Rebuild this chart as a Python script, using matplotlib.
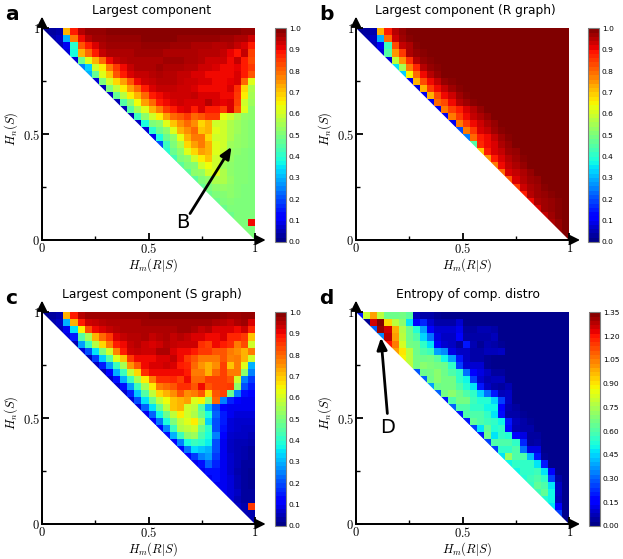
import numpy as np
import matplotlib
matplotlib.use("Agg")
import matplotlib.pyplot as plt
from matplotlib.patches import Polygon

W, H = 623, 559
titles = ["Largest component", "Largest component (R graph)", "Largest component (S graph)", "Entropy of comp. distro"]
letters = ["a", "b", "c", "d"]
vmax_list = [1.0, 1.0, 1.0, 1.35]
cbar_ticks_a = [0.0,0.1,0.2,0.3,0.4,0.5,0.6,0.7,0.8,0.9,1.0]
cbar_ticks_d = [0.0,0.15,0.30,0.45,0.60,0.75,0.90,1.05,1.20,1.35]

# values x100, each row starts on the diagonal and runs to the right edge
rows_a = [
[2,3,4,72,88,95,98,98,98,99,99,99,99,99,99,99,99,99,99,99,99,99,99,99,99,99,99,99,98,98],
[4,6,30,78,90,95,97,97,98,98,98,98,98,99,99,99,99,99,98,98,98,98,98,98,97,97,96,96,93],
[5,10,40,82,88,92,96,97,97,97,97,97,98,98,98,98,97,97,97,96,96,96,95,95,96,94,92,88],
[8,38,72,80,88,94,96,96,96,96,97,97,97,97,96,96,96,96,96,95,95,95,94,91,89,94,84],
[8,48,62,72,80,90,94,95,96,96,96,96,96,97,97,97,96,96,95,93,93,93,90,94,88,83],
[25,33,60,66,78,85,90,94,96,96,96,97,96,96,96,95,95,93,93,92,90,90,91,88,85],
[30,47,62,70,82,88,92,94,94,95,96,95,95,94,94,92,92,90,90,90,90,92,88,82],
[8,50,60,68,74,82,90,93,94,95,95,95,94,93,93,92,92,90,90,91,92,80,62],
[5,50,58,66,74,80,88,92,94,94,94,93,93,92,90,90,90,90,92,86,68,56],
[6,47,57,66,72,80,88,90,92,93,93,93,94,92,92,92,90,90,85,66,55],
[5,45,52,64,74,80,88,90,92,93,92,92,92,95,92,91,92,84,60,54],
[5,45,55,62,72,78,85,88,91,92,88,92,88,88,85,92,82,62,52],
[5,42,52,60,66,74,80,82,85,80,82,85,85,63,60,56,53,52],
[6,38,50,52,62,70,76,80,76,68,72,60,60,56,54,52,51],
[8,40,48,52,62,72,76,80,70,72,62,60,56,54,52,51],
[10,38,48,52,63,72,78,78,68,60,60,56,53,52,51],
[20,42,50,56,68,74,78,72,62,60,54,53,52,51],
[40,48,52,62,68,74,72,62,59,53,52,51,50],
[43,50,52,60,66,70,60,56,53,51,51,50],
[46,50,51,60,64,60,54,52,51,51,50],
[46,52,53,60,62,56,52,51,51,50],
[46,50,52,56,56,53,51,51,50],
[47,50,52,53,52,51,50,50],
[48,50,51,52,51,50,50],
[48,50,51,50,50,50],
[48,50,50,50,50],
[48,50,50,50],
[50,50,90],
[50,50],
[50],
]

rows_b = [
[2,3,4,72,88,95,98,100],
[4,6,30,80,93,97,99],
[5,10,42,83,94,96,99],
[8,45,75,85,96,98,99],
[8,58,75,86,95,98,99],
[35,55,78,87,95,98,99],
[33,65,80,90,95,98],
[10,72,83,90,94,98,99],
[8,72,85,90,94,97,99],
[10,72,83,90,93,97,99],
[10,80,83,90,95,97,99],
[10,78,84,88,92,95,98],
[10,78,85,90,94,96,98],
[10,78,85,90,93,96,98],
[20,78,85,92,94,97,99],
[25,80,88,90,94,97,99],
[45,87,90,92,96,98],
[70,88,92,94,97,98],
[75,88,92,95,97,99],
[78,90,94,96,98],
[80,92,94,96,98],
[82,92,95,97,98],
[85,93,96,97,99],
[88,95,97,98,99],
[90,96,97,98,99],
[92,97,98,99,100],
[94,97,99,100],
[96,98,100],
[98,100],
[100],
]

rows_c = [
[2,3,4,72,88,95,97,97,97,97,97,98,98,98,98,99,99,99,99,99,99,99,99,99,99,98,97,97,98,98],
[4,6,30,72,88,93,94,95,96,96,96,96,96,97,97,97,97,97,97,97,97,97,97,96,95,94,96,97,92],
[5,10,35,65,83,90,92,94,95,96,96,96,96,96,96,96,96,97,97,96,94,95,92,92,92,90,93,87],
[8,15,45,55,72,80,85,92,94,95,95,96,94,95,96,94,95,94,92,92,90,90,92,87,87,85,70],
[5,28,42,57,68,78,88,90,94,95,93,92,93,95,94,93,93,93,86,84,90,88,86,78,83,60],
[8,20,35,50,60,77,88,93,94,93,93,96,96,92,90,90,88,85,85,82,82,78,76,72,78],
[5,18,33,45,62,70,85,90,90,90,92,92,94,90,85,82,78,78,78,82,77,78,72,60],
[6,15,28,42,55,75,82,90,92,92,93,92,88,87,80,75,72,76,84,70,78,62,30],
[5,12,30,42,58,68,86,90,90,90,90,90,88,78,78,72,80,84,78,78,52,25],
[6,14,30,42,55,66,78,86,86,87,84,90,80,80,84,84,84,82,60,25,18],
[7,14,28,42,55,66,78,80,82,86,86,82,90,82,84,84,85,52,20,15],
[7,16,32,45,58,68,72,76,82,76,78,82,68,82,84,48,25,14,12],
[8,20,35,48,58,64,70,72,74,62,65,52,80,25,16,12,10,10],
[8,22,35,47,58,70,72,60,58,45,30,20,12,10,10,10,10],
[10,22,37,48,58,66,60,56,48,38,22,15,10,8,8,8],
[12,24,38,50,58,62,66,55,33,20,15,8,7,7,7],
[13,26,42,56,58,60,48,40,20,14,8,7,6,6],
[14,30,42,52,54,44,38,25,12,7,6,6,5],
[13,25,38,42,40,36,20,10,6,5,5,4],
[13,24,34,32,30,20,10,6,5,4,3],
[12,18,25,28,18,10,7,5,4,3],
[10,14,22,16,10,7,5,3,3],
[10,14,14,10,7,4,3,2],
[10,14,10,8,5,3,2],
[10,10,8,5,3,2],
[10,8,6,3,3],
[8,5,3,3],
[6,4,85],
[5,4],
[5],
]

# real entropy values x100
rows_d = [
[20,80,100,78,65,65,66,62,7,5,5,3,2,2],
[3,125,135,92,78,70,47,15,22,10,5,5,5,10,2],
[30,132,125,98,76,65,53,38,15,10,10,10,13,4,4,6,6,5,2],
[35,128,100,78,65,60,45,32,12,8,8,15,5,5,5,5,7,2],
[120,105,82,66,65,55,47,15,10,8,4,20,6,3,6,5,3,2],
[100,90,78,65,60,57,38,35,12,8,8,5,5,7,7,8,2],
[88,78,66,65,66,62,50,38,20,8,5,5,3,2],
[78,66,70,68,66,65,55,25,10,10,10,3,2],
[28,65,66,70,65,60,55,32,15,12,8,4,4,2],
[30,65,70,66,66,55,50,25,10,6,7,7,2],
[38,65,66,66,60,53,47,20,8,5,4,6,2],
[30,66,70,65,60,55,45,32,20,7,8,2],
[20,60,66,66,57,53,53,45,25,8,2],
[30,60,60,55,55,50,50,15,6,4,2],
[20,60,60,60,55,47,18,5,5,3,2],
[20,63,60,57,55,50,20,7,5,3,2],
[25,47,63,53,55,18,6,5,5,2],
[20,65,47,55,53,15,12,4,4,2],
[25,60,60,60,55,22,4,5,2],
[25,55,55,60,32,12,12,2],
[47,72,60,60,42,20,3,2],
[50,55,55,55,47,20,2],
[50,55,55,57,47,15,2],
[53,57,60,55,25,5,2],
[55,63,60,47,8,2],
[57,63,50,8,2],
[53,50,7,2],
[47,15,2],
[25,2],
[2],
]

pad_values = [None, 100, None, 2]
rows_all = [rows_a, rows_b, rows_c, rows_d]
title_x = [0.515, 0.515, 0.515, 0.525]

# layout in reference pixels: left, right, top, bottom of the map; colorbar left, right
boxes = [(42,255,28.3,240,275,286),(356,569.3,28.3,240,588,599),(42,255,312.3,524,275,286),(356,569.3,312.3,524,589,600)]

def build(rows, pad):
    Z = np.full((30,30), np.nan)
    for r, row in enumerate(rows):
        for i, v in enumerate(row):
            if r+i < 30:
                Z[r, r+i] = v/100
        if pad is not None or len(row) < 30-r:
            fill = pad if pad is not None else row[-1]
            for c in range(r+len(row), 30):
                Z[r, c] = fill/100
    return Z

plt.rcParams['mathtext.fontset'] = 'cm'
fig = plt.figure(figsize=(W/100, H/100), dpi=100)
edges = np.linspace(0,1,31)
tick_tex = {0:r'$\mathrm{0}$', 0.5:r'$\mathrm{0.5}$', 1:r'$\mathrm{1}$'}

for k in range(4):
    l,rt,t,b,cl,cr = boxes[k]
    ax = fig.add_axes([l/W, 1-b/H, (rt-l)/W, (b-t)/H])
    Z = build(rows_all[k], pad_values[k])
    mesh = ax.pcolormesh(edges, edges[::-1], Z, cmap='jet', vmin=0, vmax=vmax_list[k], rasterized=True, shading='flat')
    tri = Polygon([(0,1),(1,1),(1,0)], closed=True, transform=ax.transData, fc='none', ec='none')
    ax.add_patch(tri)
    mesh.set_clip_path(tri)
    ax.set_xlim(0,1); ax.set_ylim(0,1)
    for s in ('top','right'):
        ax.spines[s].set_visible(False)
    for s in ('left','bottom'):
        ax.spines[s].set_linewidth(1.3)
    ax.set_xticks([0,0.5,1]); ax.set_yticks([0,0.5,1])
    ax.set_xticklabels([tick_tex[0],tick_tex[0.5],tick_tex[1]], fontsize=9)
    ax.set_yticklabels([tick_tex[0],tick_tex[0.5],tick_tex[1]], fontsize=9)
    ax.set_xticks([0.25,0.75], minor=True); ax.set_yticks([0.25,0.75], minor=True)
    ax.tick_params(which='major', direction='in', length=5, width=1.3, pad=1.5)
    ax.tick_params(which='minor', direction='in', length=3, width=1.0)
    ax.set_xlabel(r'$H_m(R|S)$', fontsize=9, labelpad=0, x=0.52)
    ax.set_ylabel(r'$H_n(S)$', fontsize=9, labelpad=1.5, y=0.525)
    ax.set_title(titles[k], fontsize=8.85, pad=10, x=title_x[k])
    for tip in ((1.05,0),(0,1.055)):
        ax.annotate('', xy=tip, xytext=(0,0), xycoords='data', annotation_clip=False,
                    arrowprops=dict(arrowstyle='-|>,head_length=0.6,head_width=0.3', color='k', lw=1.3, shrinkA=0, shrinkB=0))
    fig.text((l-37)/W, 1-(t-14)/H, letters[k], fontsize=14.5, fontweight='bold', va='center', ha='left')

    cax = fig.add_axes([cl/W, 1-(b+2)/H, (cr-cl)/W, (b+2-t)/H])
    bounds = np.linspace(0, vmax_list[k], 51)
    cb = fig.colorbar(mesh, cax=cax, boundaries=bounds, spacing='proportional')
    cb.set_ticks(cbar_ticks_d if k == 3 else cbar_ticks_a)
    cb.ax.set_yticklabels([f'{v:.2f}' if k == 3 else f'{v:.1f}' for v in (cbar_ticks_d if k == 3 else cbar_ticks_a)], fontsize=5.4)
    cb.ax.tick_params(length=0, pad=2)
    cb.outline.set_edgecolor('#808080'); cb.outline.set_linewidth(0.8)

    if k == 0:
        ax.annotate('', xy=(0.89,0.44), xytext=(0.695,0.125),
                    arrowprops=dict(arrowstyle='-|>,head_length=0.7,head_width=0.3', color='k', lw=2, shrinkA=0, shrinkB=0))
        ax.text(0.66, 0.085, 'B', fontsize=14, ha='center', va='center')
    if k == 3:
        ax.annotate('', xy=(0.117,0.88), xytext=(0.147,0.522),
                    arrowprops=dict(arrowstyle='-|>,head_length=0.7,head_width=0.3', color='k', lw=2, shrinkA=0, shrinkB=0))
        ax.text(0.15, 0.456, 'D', fontsize=14, ha='center', va='center')

fig.savefig('out.png', dpi=100)
